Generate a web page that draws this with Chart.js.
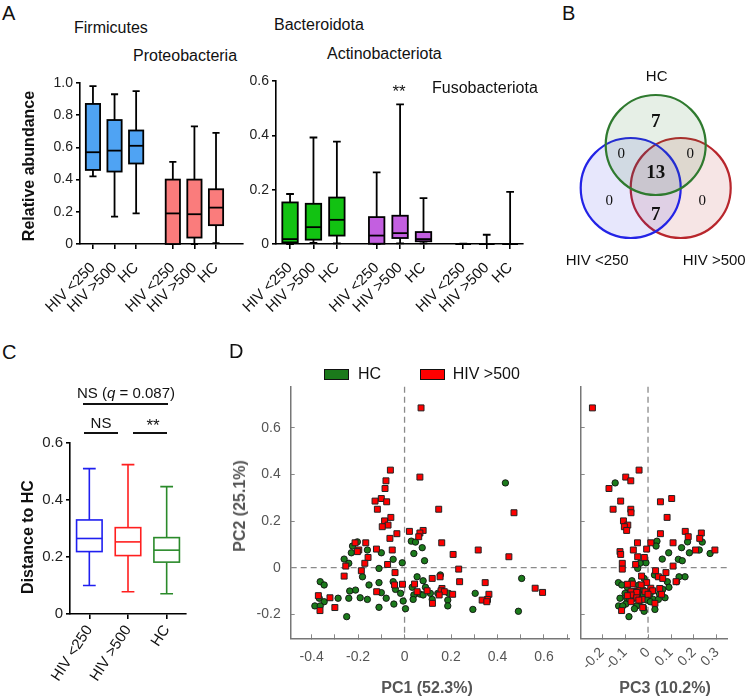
<!DOCTYPE html>
<html>
<head>
<meta charset="utf-8">
<title>Gut microbiota figure</title>
<script src="https://cdn.jsdelivr.net/npm/chart.js@4.4.1/dist/chart.umd.min.js"></script>
<style>
  body { margin: 0; background: #fff; }
  #fig { position: relative; width: 750px; height: 700px; overflow: hidden;
         font-family: 'Liberation Sans', Arial, sans-serif; color: #111; }
  #fig canvas { position: absolute; }
  .t { position: absolute; white-space: nowrap; line-height: 1; }
  .c { transform: translateX(-50%); }
  .panel { font-size: 20px; }
  .phy { font-size: 16px; }
  .rule { position: absolute; height: 0; border-top: 2px solid #111; }
  .vt { position: absolute; white-space: nowrap; line-height: 1; font-weight: bold; font-size: 16px;
        transform: translate(-50%, -50%) rotate(-90deg); }
  .ht { position: absolute; white-space: nowrap; line-height: 1; font-weight: bold; font-size: 16px;
        transform: translate(-50%, -50%); }
  .key { position: absolute; width: 23px; height: 9px; border: 1px solid #111; }
</style>
</head>
<body>
<div id="fig">
  <canvas id="boxA1" width="250" height="262" style="left:0;top:66px"></canvas>
  <canvas id="boxA2" width="290" height="262" style="left:240px;top:66px"></canvas>
  <canvas id="venn" width="190" height="250" style="left:560px;top:60px"></canvas>
  <canvas id="distC" width="230" height="320" style="left:0;top:380px"></canvas>
  <canvas id="pcaL" width="369" height="340" style="left:230px;top:360px"></canvas>
  <canvas id="pcaR" width="175" height="340" style="left:575px;top:360px"></canvas>

  <div class="t panel" style="left:2px;top:3px">A</div>
  <div class="t panel" style="left:562px;top:3px">B</div>
  <div class="t panel" style="left:2px;top:342px">C</div>
  <div class="t panel" style="left:229px;top:341px">D</div>

  <div class="t phy" style="left:74px;top:20px">Firmicutes</div>
  <div class="t phy" style="left:133px;top:48px">Proteobacteria</div>
  <div class="t phy" style="left:274px;top:17px">Bacteroidota</div>
  <div class="t phy" style="left:327px;top:46px">Actinobacteriota</div>
  <div class="t phy" style="left:432px;top:80px">Fusobacteriota</div>
  <div class="t c" style="left:399px;top:83px;font-size:17px">**</div>
  <div class="vt" style="left:29px;top:166px">Relative abundance</div>

  <div class="t c" style="left:126px;top:385px;font-size:15px">NS (<i>q</i> = 0.087)</div>
  <div class="rule" style="left:83px;top:403px;width:85px"></div>
  <div class="t c" style="left:101px;top:415px;font-size:15px">NS</div>
  <div class="rule" style="left:84px;top:432px;width:34px"></div>
  <div class="t c" style="left:153px;top:417px;font-size:17px">**</div>
  <div class="rule" style="left:133px;top:432px;width:34px"></div>
  <div class="vt" style="left:28px;top:537px">Distance to HC</div>

  <div id="legend"></div>
  <div class="vt" style="left:240px;top:506px;color:#555">PC2 (25.1%)</div>
  <div class="ht" style="left:427px;top:688px;color:#555">PC1 (52.3%)</div>
  <div class="ht" style="left:665px;top:688px;color:#555">PC3 (10.2%)</div>
</div>

<script>
// ---------- data ----------
const groups = ['HIV <250', 'HIV >500', 'HC'];

// Panel A: relative abundance, [min, Q1, median, Q3, max] for each group
const firmicutes = [[0.42, 0.46, 0.57, 0.87, 0.98], [0.17, 0.45, 0.58, 0.77, 0.93], [0.19, 0.50, 0.61, 0.705, 0.95]];
const proteobacteria = [[0, 0, 0.19, 0.40, 0.51], [0, 0.04, 0.185, 0.40, 0.73], [0.005, 0.117, 0.226, 0.34, 0.69]];
const bacteroidota = [[0, 0.006, 0.018, 0.153, 0.184], [0.004, 0.016, 0.062, 0.148, 0.392], [0.002, 0.031, 0.089, 0.171, 0.377]];
const actinobacteriota = [[0, 0.001, 0.031, 0.099, 0.264], [0.002, 0.022, 0.04, 0.104, 0.514], [0.002, 0.01, 0.018, 0.044, 0.169]];
const fusobacteriota = [[0, 0, 0, 0, 0.001], [0, 0, 0, 0, 0.034], [0, 0, 0, 0, 0.192]];
const ticksA1 = [0, 0.2, 0.4, 0.6, 0.8, 1.0];
const ticksA2 = [0, 0.2, 0.4, 0.6];

// Panel B: shared genera
const vennSets = ['HC', 'HIV <250', 'HIV >500'];
// HC only, HC & <250, HC & >500, all three, <250 only, >500 only, <250 & >500
const vennCounts = [7, 0, 0, 13, 0, 0, 7];

// Panel C: distance to HC, [min, Q1, median, Q3, max]
const distToHC = [[0.10, 0.219, 0.265, 0.33, 0.51], [0.078, 0.205, 0.253, 0.303, 0.524], [0.071, 0.182, 0.224, 0.268, 0.447]];
const ticksC = [0, 0.2, 0.4, 0.6];

// Panel D: PCA scores
const hcPC1 = [0.434, 0.029, -0.203, 0.047, -0.224, 0.076, -0.160, -0.229, -0.100, 0.040, -0.260, -0.049, 0.086, -0.010, -0.240, -0.110, 0.154, -0.181, 0.054, 0.504, 0.080, -0.363, -0.049, -0.110, -0.346, -0.153, 0.033, 0.090, -0.039, -0.211, -0.236, -0.100, -0.017, 0.111, 0.143, 0.190, 0.304, 0.066, 0.040, 0.080, -0.191, -0.367, -0.286, -0.240, -0.079, -0.160, 0.037, 0.119, 0.186, -0.006, -0.346, -0.046, -0.386, -0.363, 0.186, -0.110, 0.004, 0.294, 0.490, -0.249];
const hcPC2 = [0.364, 0.114, 0.111, 0.110, 0.093, 0.086, 0.076, 0.064, 0.064, 0.061, 0.037, 0.036, 0.030, 0.021, 0.019, -0.003, -0.031, -0.039, -0.039, -0.046, -0.056, -0.060, -0.060, -0.064, -0.074, -0.074, -0.084, -0.084, -0.093, -0.096, -0.100, -0.107, -0.110, -0.110, -0.110, -0.110, -0.110, -0.113, -0.117, -0.117, -0.129, -0.131, -0.131, -0.131, -0.131, -0.136, -0.136, -0.136, -0.139, -0.143, -0.146, -0.156, -0.164, -0.164, -0.164, -0.170, -0.176, -0.179, -0.187, -0.210];
const hcPC3 = [-0.143, 0.039, 0.172, 0.236, 0.035, 0.146, 0.223, 0.090, 0.180, 0.270, 0.062, 0.132, 0.149, -0.009, -0.035, -0.045, 0.028, 0.161, 0.135, -0.017, -0.070, 0.125, 0.084, -0.129, -0.114, -0.040, 0.091, -0.090, 0.064, -0.020, 0.020, -0.078, -0.060, 0.004, 0.009, -0.100, -0.052, 0.050, -0.030, -0.020, 0.074, -0.122, -0.061, -0.093, -0.003, 0.023, 0.045, -0.080, -0.006, -0.035, 0.010, -0.097, -0.050, -0.128, -0.110, -0.020, -0.059, 0.030, -0.017, -0.083];
const hivPC1 = [0.071, -0.061, 0.066, -0.080, -0.084, -0.100, -0.127, -0.077, -0.117, 0.147, 0.471, -0.059, -0.086, -0.071, -0.096, 0.080, 0.021, 0.066, -0.033, 0.061, -0.063, -0.213, -0.167, 0.160, -0.121, -0.197, -0.053, 0.317, -0.203, 0.209, 0.449, -0.157, -0.171, -0.073, -0.253, 0.233, -0.186, -0.041, -0.260, 0.153, 0.119, 0.237, 0.347, 0.043, -0.009, -0.043, 0.562, 0.161, 0.097, 0.157, -0.120, 0.054, 0.171, 0.594, 0.207, 0.363, 0.149, -0.371, -0.321, 0.357, 0.334, 0.354, 0.120, -0.300, -0.364];
const hivPC2 = [0.686, 0.419, 0.389, 0.373, 0.340, 0.297, 0.286, 0.283, 0.251, 0.251, 0.236, 0.216, 0.201, 0.183, 0.176, 0.160, 0.156, 0.149, 0.146, 0.133, 0.126, 0.107, 0.107, 0.107, 0.080, 0.076, 0.076, 0.076, 0.069, 0.057, 0.047, 0.044, 0.019, 0.014, 0.007, -0.006, -0.013, -0.021, -0.036, -0.039, -0.046, -0.060, -0.064, -0.070, -0.071, -0.074, -0.088, -0.089, -0.099, -0.099, -0.103, -0.103, -0.103, -0.106, -0.114, -0.114, -0.117, -0.120, -0.129, -0.136, -0.139, -0.146, -0.153, -0.171, -0.184];
const hivPC3 = [-0.242, -0.039, -0.097, -0.075, -0.170, 0.103, -0.119, 0.054, -0.152, -0.075, -0.074, 0.083, -0.107, -0.088, -0.103, -0.093, 0.162, 0.232, 0.054, 0.175, 0.225, -0.046, 0.012, 0.109, -0.006, 0.291, -0.064, 0.207, -0.122, -0.119, -0.045, -0.016, -0.112, -0.054, 0.109, -0.112, 0.033, 0.078, -0.028, 0.045, 0.064, 0.122, -0.006, -0.068, -0.090, -0.030, 0.012, 0.051, -0.045, 0.020, -0.060, -0.013, -0.074, -0.049, 0.059, 0.000, -0.074, -0.090, -0.049, -0.026, -0.040, -0.074, 0.030, -0.023, -0.115];
const ticksPC1 = [-0.4, -0.2, 0, 0.2, 0.4, 0.6];
const ticksPC2 = [-0.2, 0, 0.2, 0.4, 0.6];
const ticksPC3 = [-0.2, -0.1, 0, 0.1, 0.2, 0.3];

// ---------- styling ----------
Chart.defaults.font.family = "'Liberation Sans', Arial, sans-serif";
Chart.defaults.animation = false;
Chart.defaults.plugins.legend.display = false;
Chart.defaults.plugins.tooltip.enabled = false;

const GROUP_STEP = 3.7;
const fmt = v => (Math.abs(v) < 1e-9 ? '0' : v.toFixed(1));
const hasTick = (list, v) => list.some(t => Math.abs(t - v) < 1e-6);

// box and whisker drawn from each dataset's stats through the chart scales
const boxPlugin = {
  id: 'boxPlot',
  afterDatasetsDraw(chart) {
    const { ctx, scales: { x, y } } = chart;
    const unit = Math.abs(x.getPixelForValue(1) - x.getPixelForValue(0));
    chart.data.datasets.forEach((ds, di) => {
      if (!ds.stats) return;
      const meta = chart.getDatasetMeta(di);
      ds.stats.forEach((s, i) => {
        const cx = meta.data[i].x;
        const half = unit * ds.boxFrac / 2;
        const cap = half * 0.5;
        const [lo, q1, med, q3, hi] = s.map(v => y.getPixelForValue(v));
        ctx.save();
        ctx.lineWidth = ds.lineW;
        ctx.strokeStyle = ds.boxLine;
        ctx.beginPath();
        ctx.moveTo(cx, q3); ctx.lineTo(cx, hi);
        ctx.moveTo(cx - cap, hi); ctx.lineTo(cx + cap, hi);
        ctx.moveTo(cx, q1); ctx.lineTo(cx, lo);
        ctx.moveTo(cx - cap, lo); ctx.lineTo(cx + cap, lo);
        ctx.stroke();
        ctx.fillStyle = ds.boxFill;
        ctx.fillRect(cx - half, q3, half * 2, q1 - q3);
        ctx.strokeRect(cx - half, q3, half * 2, q1 - q3);
        ctx.beginPath();
        ctx.moveTo(cx - half, med); ctx.lineTo(cx + half, med);
        ctx.stroke();
        ctx.restore();
      });
    });
  }
};

function boxChart(id, series, fills, yTicks, xMin, xMax, g) {
  const datasets = series.map((stats, gi) => ({
    data: stats.map((s, i) => ({ x: gi * GROUP_STEP + i, y: s[2] })),
    stats: stats, boxFill: fills[gi], boxLine: '#000', lineW: 1.8, boxFrac: 0.66, pointRadius: 0
  }));
  const positions = datasets.flatMap(d => d.data.map(p => p.x));
  return new Chart(document.getElementById(id), {
    type: 'scatter',
    data: { datasets },
    options: {
      responsive: false,
      layout: { autoPadding: false, padding: { top: g.top, right: g.right, left: 0, bottom: 0 } },
      scales: {
        x: {
          type: 'linear', min: xMin, max: xMax,
          afterBuildTicks: s => { s.ticks = positions.map(v => ({ value: v })); },
          afterFit: s => { s.height = g.xHeight; s.paddingLeft = 0; s.paddingRight = 0; },
          border: { color: '#000', width: 1.6 },
          grid: { drawOnChartArea: false, drawTicks: true, tickLength: 5, color: '#000', lineWidth: 1.6 },
          ticks: { autoSkip: false, minRotation: 45, maxRotation: 45, padding: 10, color: '#111',
                   font: { size: 15 }, callback: (v, i) => groups[i % groups.length] }
        },
        y: {
          min: 0, max: yTicks[yTicks.length - 1],
          afterBuildTicks: s => { s.ticks = yTicks.map(v => ({ value: v })); },
          afterFit: s => { s.width = g.yWidth; s.paddingTop = 0; s.paddingBottom = 0; },
          border: { color: '#000', width: 1.6 },
          grid: { drawOnChartArea: false, drawTicks: true, tickLength: 4, color: '#000', lineWidth: 1.6 },
          ticks: { padding: 3, color: '#222', font: { size: 14 }, callback: v => fmt(v) }
        }
      }
    },
    plugins: [boxPlugin]
  });
}

// ---------- panel A ----------
boxChart('boxA1', [firmicutes, proteobacteria], ['#4fa3f3', '#fa7c7c'], ticksA1, -0.6, 6.95,
         { top: 17, right: 7, yWidth: 80, xHeight: 84 });
boxChart('boxA2', [bacteroidota, actinobacteriota, fusobacteriota], ['#12c212', '#c35fe0', '#bbbbbb'], ticksA2, -0.6, 9.95,
         { top: 15, right: 7, yWidth: 36, xHeight: 84 });

// ---------- panel B ----------
const vennLine = ['#2f7a2f', '#2323e6', '#b8262c'];
const vennFill = ['rgba(47,122,47,0.12)', 'rgba(35,35,230,0.11)', 'rgba(184,38,44,0.12)'];
const vennCentres = [[0, 0.86], [-0.5, 0], [0.5, 0]];            // in circle radii
const vennLabelSpots = [[0.02, 2.22], [-1.17, -1.46], [1.17, -1.46]];
const vennCountSpots = [[0, 1.32], [-0.69, 0.68], [0.69, 0.68], [0, 0.3], [-0.93, -0.26], [0.93, -0.26], [0, -0.54]];

const vennText = {
  id: 'vennText',
  afterDatasetsDraw(chart) {
    const { ctx, scales: { x, y } } = chart;
    ctx.save();
    ctx.textAlign = 'center';
    ctx.textBaseline = 'middle';
    ctx.fillStyle = '#111';
    vennCounts.forEach((n, i) => {
      const [ux, uy] = vennCountSpots[i];
      ctx.font = (n > 0 ? 'bold 19px' : '15px') + " 'Liberation Serif', 'Times New Roman', serif";
      ctx.fillText(String(n), x.getPixelForValue(ux), y.getPixelForValue(uy));
    });
    ctx.font = "15px 'Liberation Sans', Arial, sans-serif";
    vennSets.forEach((name, i) => {
      const [ux, uy] = vennLabelSpots[i];
      ctx.fillText(name, x.getPixelForValue(ux), y.getPixelForValue(uy));
    });
    ctx.restore();
  }
};

// the canvas is scaled at 50 px per unit, so a 50 px point is one radius
new Chart(document.getElementById('venn'), {
  type: 'scatter',
  data: {
    datasets: vennSets.map((name, i) => ({
      label: name,
      data: [{ x: vennCentres[i][0], y: vennCentres[i][1] }],
      pointRadius: 50, pointHoverRadius: 50,
      pointBackgroundColor: vennFill[i], pointBorderColor: vennLine[i], pointBorderWidth: 2.2,
      backgroundColor: vennFill[i], borderColor: vennLine[i]
    }))
  },
  options: {
    responsive: false,
    clip: false,
    layout: { autoPadding: false, padding: 0 },
    scales: {
      x: { display: false, min: -1.914, max: 1.886 },
      y: { display: false, min: -2.44, max: 2.56 }
    }
  },
  plugins: [vennText]
});

// ---------- panel C ----------
const distColors = ['#1f1ff0', '#ff1f1f', '#2a8a2a'];
new Chart(document.getElementById('distC'), {
  type: 'scatter',
  data: {
    datasets: groups.map((gname, i) => ({
      data: [{ x: gname, y: distToHC[i][2] }],
      stats: [distToHC[i]], boxFill: '#fff', boxLine: distColors[i], lineW: 1.6, boxFrac: 0.66, pointRadius: 0
    }))
  },
  options: {
    responsive: false,
    layout: { autoPadding: false, padding: { top: 63, right: 44, left: 0, bottom: 0 } },
    scales: {
      x: {
        type: 'category', labels: groups, offset: true,
        afterFit: s => { s.height = 86; s.paddingLeft = 0; s.paddingRight = 0; },
        border: { color: '#000', width: 1.6 },
        grid: { drawOnChartArea: false, drawTicks: true, tickLength: 5, color: '#000', lineWidth: 1.6, offset: false },
        ticks: { autoSkip: false, minRotation: 57, maxRotation: 57, padding: 3, color: '#111', font: { size: 15 } }
      },
      y: {
        min: 0, max: ticksC[ticksC.length - 1],
        afterBuildTicks: s => { s.ticks = ticksC.map(v => ({ value: v })); },
        afterFit: s => { s.width = 70; s.paddingTop = 0; s.paddingBottom = 0; },
        border: { color: '#000', width: 1.6 },
        grid: { drawOnChartArea: false, drawTicks: true, tickLength: 4, color: '#000', lineWidth: 1.6 },
        ticks: { padding: 3, color: '#222', font: { size: 15 }, callback: v => fmt(v) }
      }
    }
  },
  plugins: [boxPlugin]
});

// ---------- panel D ----------
const zeroLines = {
  id: 'zeroLines',
  beforeDatasetsDraw(chart) {
    const { ctx, chartArea: a, scales: { x, y } } = chart;
    const px = x.getPixelForValue(0), py = y.getPixelForValue(0);
    ctx.save();
    ctx.setLineDash([6, 4]);
    ctx.strokeStyle = '#8a8a8a';
    ctx.lineWidth = 1.3;
    ctx.beginPath();
    ctx.moveTo(px, a.top); ctx.lineTo(px, a.bottom);
    ctx.moveTo(a.left, py); ctx.lineTo(a.right, py);
    ctx.stroke();
    ctx.restore();
  }
};

const hcStyle = { label: 'HC', pointStyle: 'circle', pointRadius: 3.2, backgroundColor: '#1b7a1b', borderColor: '#111', borderWidth: 0.9 };
const hivStyle = { label: 'HIV >500', pointStyle: 'rect', pointRadius: 4.2, backgroundColor: '#ff0000', borderColor: '#222', borderWidth: 1 };
const yPC2 = { min: -0.303, max: 0.777 };

function pcaChart(id, hcX, hivX, xMin, xMax, xLabels, rotation, g) {
  return new Chart(document.getElementById(id), {
    type: 'scatter',
    data: {
      datasets: [
        Object.assign({ data: hivX.map((v, i) => ({ x: v, y: hivPC2[i] })) }, hivStyle),
        Object.assign({ data: hcX.map((v, i) => ({ x: v, y: hcPC2[i] })) }, hcStyle)
      ]
    },
    options: {
      responsive: false,
      clip: false,
      layout: { autoPadding: false, padding: { top: 26.7, right: g.right, left: 0, bottom: 0 } },
      scales: {
        x: {
          min: xMin, max: xMax,
          afterFit: s => { s.height = 61.7; s.paddingLeft = 0; s.paddingRight = 0; },
          border: { color: '#777', width: 1.5 },
          grid: { drawOnChartArea: false, drawTicks: true, tickLength: -4, color: '#888', lineWidth: 1 },
          ticks: { stepSize: 0.1, includeBounds: false, autoSkip: false, minRotation: rotation, maxRotation: rotation,
                   padding: g.xPad, color: '#555', font: { size: 14 },
                   callback: v => (hasTick(xLabels, v) ? fmt(v) : '') }
        },
        y: {
          min: yPC2.min, max: yPC2.max,
          afterFit: s => { s.width = g.yWidth; s.paddingTop = 0; s.paddingBottom = 0; },
          border: { color: '#777', width: 1.5 },
          grid: { drawOnChartArea: false, drawTicks: true, tickLength: -4, color: '#888', lineWidth: 1 },
          ticks: { stepSize: 0.2, includeBounds: false, display: g.yLabels, padding: 14, color: '#555', font: { size: 14 },
                   callback: v => (hasTick(ticksPC2, v) ? fmt(v) : '') }
        }
      }
    },
    plugins: [zeroLines]
  });
}

pcaChart('pcaL', hcPC1, hivPC1, -0.49, 0.709, ticksPC1, 0, { right: 29.7, yWidth: 60.7, xPad: 14, yLabels: true });
pcaChart('pcaR', hcPC3, hivPC3, -0.293, 0.345, ticksPC3, 45, { right: 22.7, yWidth: 5.7, xPad: 10, yLabels: false });

// legend built from the dataset styles
const legendSpots = { 'HC': [324, 358], 'HIV >500': [420, 452.7] };
const legendEl = document.getElementById('legend');
[hcStyle, hivStyle].forEach(st => {
  const [bx, tx] = legendSpots[st.label];
  const key = document.createElement('div');
  key.className = 'key';
  key.style.left = bx + 'px';
  key.style.top = '369px';
  key.style.background = st.backgroundColor;
  legendEl.appendChild(key);
  const txt = document.createElement('div');
  txt.className = 't';
  txt.style.left = tx + 'px';
  txt.style.top = '365.5px';
  txt.style.fontSize = '16px';
  txt.textContent = st.label;
  legendEl.appendChild(txt);
});
</script>
</body>
</html>
